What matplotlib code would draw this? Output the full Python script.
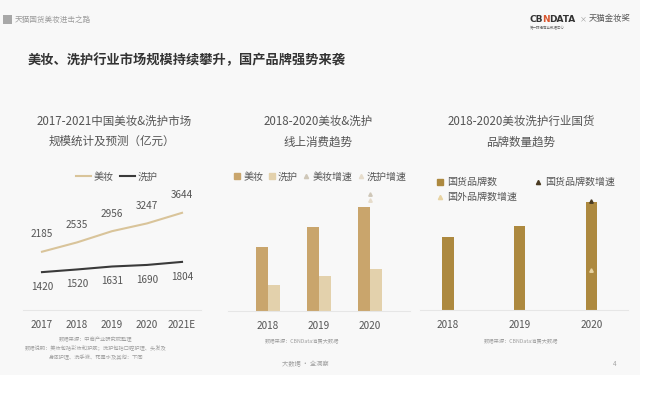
import matplotlib
matplotlib.use('Agg')
import matplotlib.pyplot as plt
import numpy as np
from matplotlib.patches import Rectangle
from matplotlib.lines import Line2D

plt.rcParams['font.family'] = ['Noto Sans CJK SC', 'DejaVu Sans']
plt.rcParams['axes.unicode_minus'] = False

# データ
years1 = ['2017', '2018', '2019', '2020', '2021E']
beauty_size = [2185, 2535, 2956, 3247, 3644]
wash_size = [1420, 1520, 1631, 1690, 1804]

years2 = ['2018', '2019', '2020']
online_beauty = [64, 84, 104]
online_wash = [26, 35, 42]
online_beauty_growth = [np.nan, np.nan, 117]
online_wash_growth = [np.nan, np.nan, 111]

years3 = ['2018', '2019', '2020']
domestic_brands = [73, 84, 108]
domestic_growth = [np.nan, np.nan, 109]
foreign_growth = [np.nan, np.nan, 40]

W, H = 657, 395
fig = plt.figure(figsize=(W / 100, H / 100), dpi=100, facecolor='white')


def fx(x):
    return x / W


def fy(y):
    return 1 - y / H


def add_ax(left, top, right, bottom):
    return fig.add_axes([fx(left), fy(bottom), (right - left) / W, (bottom - top) / H])


# 背景
fig.patches.append(Rectangle((0, fy(375)), fx(640), 375 / H, transform=fig.transFigure,
                             facecolor='#f8f8f8', edgecolor='none', zorder=-10))

# ヘッダー
fig.patches.append(Rectangle((fx(3), fy(24)), fx(9), 9 / H, transform=fig.transFigure,
                             facecolor='#a8a8a8', edgecolor='none'))
fig.text(fx(15), fy(19.5), '天猫国货美妆进击之路', fontsize=5.5, color='#9a9a9a', va='center')
fig.text(fx(530), fy(19), 'CB', fontsize=6.5, fontweight='bold', color='#333333', va='center',
         family='DejaVu Sans')
fig.text(fx(542), fy(19), 'N', fontsize=6.5, fontweight='bold', color='#d9562e', va='center',
         family='DejaVu Sans')
fig.text(fx(549), fy(19), 'DATA', fontsize=6.5, fontweight='bold', color='#333333', va='center',
         family='DejaVu Sans')
fig.text(fx(530), fy(28), '第一财经商业数据中心', fontsize=2.5, color='#666666', va='center')
fig.text(fx(580), fy(19), '×', fontsize=5, color='#999999', va='center')
fig.text(fx(589), fy(19), '天猫金妆奖', fontsize=6, color='#555555', va='center')

fig.text(fx(28), fy(60), '美妆、洗护行业市场规模持续攀升，国产品牌强势来袭', fontsize=9.5,
         fontweight='bold', color='#333333', va='center')

title_kw = dict(fontsize=8.3, color='#555555', ha='center', va='center')
fig.text(fx(114), fy(121), '2017-2021中国美妆&洗护市场', **title_kw)
fig.text(fx(112), fy(141), '规模统计及预测（亿元）', **title_kw)
fig.text(fx(318), fy(121), '2018-2020美妆&洗护', **title_kw)
fig.text(fx(318), fy(142), '线上消费趋势', **title_kw)
fig.text(fx(521), fy(121), '2018-2020美妆洗护行业国货', **title_kw)
fig.text(fx(521), fy(142), '品牌数量趋势', **title_kw)

BEAUTY_LINE = '#d9c49a'
WASH_LINE = '#3a3a3a'
BAR_BEAUTY = '#c9a56c'
BAR_WASH = '#e3d1ac'
BAR_BRAND = '#ad893f'
tick_color = '#555555'


def style_ax(ax):
    ax.set_facecolor('none')
    for s in ['top', 'right', 'left']:
        ax.spines[s].set_visible(False)
    ax.spines['bottom'].set_color('#e6e6e6')
    ax.spines['bottom'].set_linewidth(0.8)
    ax.set_yticks([])
    ax.tick_params(axis='x', length=0, labelsize=7.2, colors=tick_color, pad=7)


# パネル1: 折れ線
ax1 = add_ax(22, 190, 202, 310)
style_ax(ax1)
x1 = np.arange(len(years1))
ax1.plot(x1, beauty_size, color=BEAUTY_LINE, linewidth=1.5)
ax1.plot(x1, wash_size, color=WASH_LINE, linewidth=1.5)
for xi, v in zip(x1, beauty_size):
    ax1.annotate(str(v), (xi, v), xytext=(0, 9), textcoords='offset points',
                 ha='center', va='bottom', fontsize=7.2, color=tick_color)
for xi, v in zip(x1, wash_size):
    ax1.annotate(str(v), (xi, v), xytext=(0, -7), textcoords='offset points',
                 ha='center', va='top', fontsize=7.2, color=tick_color)
ax1.set_xlim(-0.571, 4.571)
ax1.set_ylim(0, 4500)
ax1.set_xticks(x1)
ax1.set_xticklabels(years1)
ax1.spines['bottom'].set_bounds(-0.55, 4.55)

leg_kw = dict(frameon=False, fontsize=7.2, labelcolor=tick_color)
fig.legend(handles=[Line2D([], [], color=BEAUTY_LINE, lw=1.5, label='美妆'),
                    Line2D([], [], color=WASH_LINE, lw=1.5, label='洗护')],
           loc='center', bbox_to_anchor=(fx(117), fy(177)), ncol=2, handlelength=1.5,
           handletextpad=0.3, columnspacing=0.6, **leg_kw)

# パネル2: 棒グラフ
ax2 = add_ax(228, 190, 410, 311)
style_ax(ax2)
x2 = np.arange(len(years2))
bw = 0.235
ax2.bar(x2 - bw / 2, online_beauty, width=bw, color=BAR_BEAUTY, label='美妆')
ax2.bar(x2 + bw / 2, online_wash, width=bw, color=BAR_WASH, label='洗护')
ax2.plot(x2, online_beauty_growth, linestyle='none', marker='^', markersize=2.5,
         color='#cfc7b8', label='美妆增速')
ax2.plot(x2, online_wash_growth, linestyle='none', marker='^', markersize=2.5,
         color='#e6dccb', label='洗护增速')
ax2.set_xlim(-0.784, 2.784)
ax2.set_ylim(0, 121)
ax2.set_xticks(x2)
ax2.set_xticklabels(years2)
h2 = [Line2D([], [], linestyle='none', marker='s', markersize=5, color=BAR_BEAUTY, label='美妆'),
      Line2D([], [], linestyle='none', marker='s', markersize=5, color=BAR_WASH, label='洗护'),
      Line2D([], [], linestyle='none', marker='^', markersize=3, color='#cfc7b8', label='美妆增速'),
      Line2D([], [], linestyle='none', marker='^', markersize=3, color='#e6dccb', label='洗护增速')]
fig.legend(handles=h2, loc='center', bbox_to_anchor=(fx(320), fy(177)), ncol=4,
           handlelength=0.8, handletextpad=0.2, columnspacing=0.45, **leg_kw)

# パネル3: 国货品牌
ax3 = add_ax(420, 190, 628, 310)
style_ax(ax3)
x3 = np.arange(len(years3))
ax3.bar(x3, domestic_brands, width=0.155, color=BAR_BRAND)
ax3.plot(x3, domestic_growth, linestyle='none', marker='^', markersize=2.5, color='#4a3b22')
ax3.plot(x3, foreign_growth, linestyle='none', marker='^', markersize=2.5, color='#e8d3a2')
ax3.set_xlim(-0.39, 2.51)
ax3.set_ylim(0, 120)
ax3.set_xticks(x3)
ax3.set_xticklabels(years3)
h3 = [Line2D([], [], linestyle='none', marker='s', markersize=5, color=BAR_BRAND, label='国货品牌数'),
      Line2D([], [], linestyle='none', marker='^', markersize=3, color='#e8d3a2', label='国外品牌数增速'),
      Line2D([], [], linestyle='none', marker='^', markersize=3, color='#4a3b22', label='国货品牌数增速')]
fig.legend(handles=h3, loc='upper left', bbox_to_anchor=(fx(427), fy(168)), ncol=2,
           handlelength=0.8, handletextpad=0.3, columnspacing=1.7, labelspacing=0.5, **leg_kw)

# 出典
note_kw = dict(fontsize=3.8, color='#a0a0a0', ha='center', va='center')
fig.text(fx(96), fy(340), '数据来源：中商产业研究院整理', **note_kw)
fig.text(fx(96), fy(348.5), '数据说明：美妆包括彩妆和护肤；洗护包括口腔护理、头发及', **note_kw)
fig.text(fx(96), fy(357), '身体护理、洗手液、花露水及其他：下同', **note_kw)
fig.text(fx(302), fy(341), '数据来源：CBNData消费大数据', **note_kw)
fig.text(fx(521), fy(341), '数据来源：CBNData消费大数据', **note_kw)
fig.text(fx(305), fy(364), '大数据 · 全洞察', fontsize=4.5, color='#a0a0a0', ha='center', va='center')
fig.text(fx(615), fy(364), '4', fontsize=4.5, color='#a0a0a0', ha='center', va='center')

plt.savefig('out.png', dpi=100, facecolor='white')
plt.close()
